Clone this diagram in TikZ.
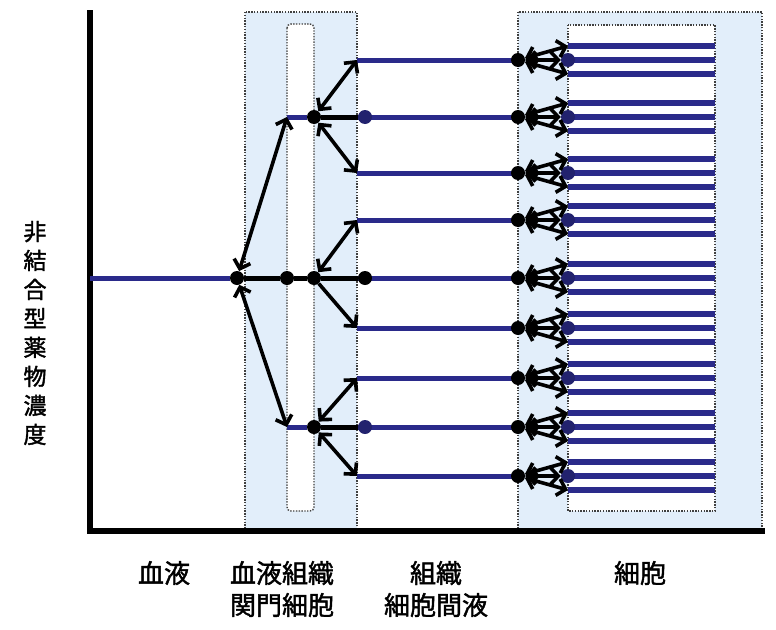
\documentclass[tikz,border=0pt]{standalone}
\usepackage{fontspec}
\newfontfamily\jp[FakeBold=1.6]{Noto Sans CJK JP}
\usetikzlibrary{arrows.meta}
\definecolor{navy}{RGB}{42,42,138}
\definecolor{cellbg}{RGB}{226,238,250}

\begin{document}
\begin{tikzpicture}[x=1pt,y=-1pt,>={Straight Barb[length=8pt,width=17pt]},
  dot/.style={circle,fill=black,inner sep=0pt,minimum size=14pt},
  bdot/.style={circle,fill=navy!80!black,inner sep=0pt,minimum size=14pt},
  conc/.style={navy,line width=5pt},
  cellline/.style={navy,line width=6pt},
  link/.style={line width=5pt},
  flow/.style={line width=3.6pt},
  zone/.style={fill=cellbg,draw=black!75,line width=1.4pt,dash pattern=on 1.4pt off 1.4pt},
  lbl/.style={font=\jp\fontsize{26}{32}\selectfont,align=center}]
\useasboundingbox (0,0) rectangle (776,629);
% Regions
\draw[zone] (245,12) rectangle (357,531);
\draw[zone] (518,12) rectangle (762,531);
\draw[zone,fill=white,rounded corners=4pt] (287,24) rectangle (314,511);
\draw[zone,fill=white] (568,25) rectangle (715,511);
% Axes
\coordinate (yt) at (90,10);
\coordinate (o) at (90,531);
\coordinate (xe) at (765,531);
\draw[line width=6pt] (yt) -- (o) -- (xe);
% Tissue rows and cells
\foreach \y [count=\k] in {60,117,173,220,278,328,378,427,476} {
  \coordinate (t\k) at (357,\y);
  \coordinate (u\k) at (568,\y-14);
  \coordinate (d\k) at (568,\y+14);
  \draw[conc] (t\k) -- (518,\y);
  \foreach \d in {-14,0,14}
    \draw[cellline] (568,\y+\d) -- (715,\y+\d);
  \node[dot] (r\k) at (518,\y) {};
  \node[bdot] (c\k) at (568,\y) {};
  \draw[flow,<->] (r\k) -- (u\k);
  \draw[flow,<->] (r\k) -- (c\k);
  \draw[flow,<->] (r\k) -- (d\k);
}
% Blood and barrier
\coordinate (a0) at (90,278);
\coordinate (g1) at (287,117);
\coordinate (g2) at (287,427);
\node[dot] (b0) at (237,278) {};
\node[dot] (g0) at (287,278) {};
\node[dot] (h0) at (314,278) {};
\node[dot] (h1) at (314,117) {};
\node[dot] (h2) at (314,427) {};
\node[dot] (i0) at (365,278) {};
\node[bdot] (i1) at (365,117) {};
\node[bdot] (i2) at (365,427) {};
\draw[conc] (a0) -- (b0);
\draw[conc] (g1) -- (h1);
\draw[conc] (g2) -- (h2);
\draw[link] (b0) -- (g0) -- (h0) -- (i0);
\draw[link] (h1) -- (i1);
\draw[link] (h2) -- (i2);
\draw[flow,<->] (b0) -- (g1);
\draw[flow,<->] (b0) -- (g2);
\draw[flow,<->] (h1) -- (t1);
\draw[flow,<->] (h1) -- (t3);
\draw[flow,<->] (h0) -- (t4);
\draw[flow,->] (h0) -- (t6);
\draw[flow,<->] (h2) -- (t7);
\draw[flow,<->] (h2) -- (t9);
% Labels
\node[font=\jp\fontsize{23}{29}\selectfont,align=center] (ylab) at (35,333)
  {非\\結\\合\\型\\薬\\物\\濃\\度};
\node[lbl] (blood) at (164,573) {血液};
\node[lbl] (barrier) at (282,589) {血液組織\\関門細胞};
\node[lbl] (fluid) at (436,589) {組織\\細胞間液};
\node[lbl] (cell) at (640,573) {細胞};
\end{tikzpicture}
\end{document}
